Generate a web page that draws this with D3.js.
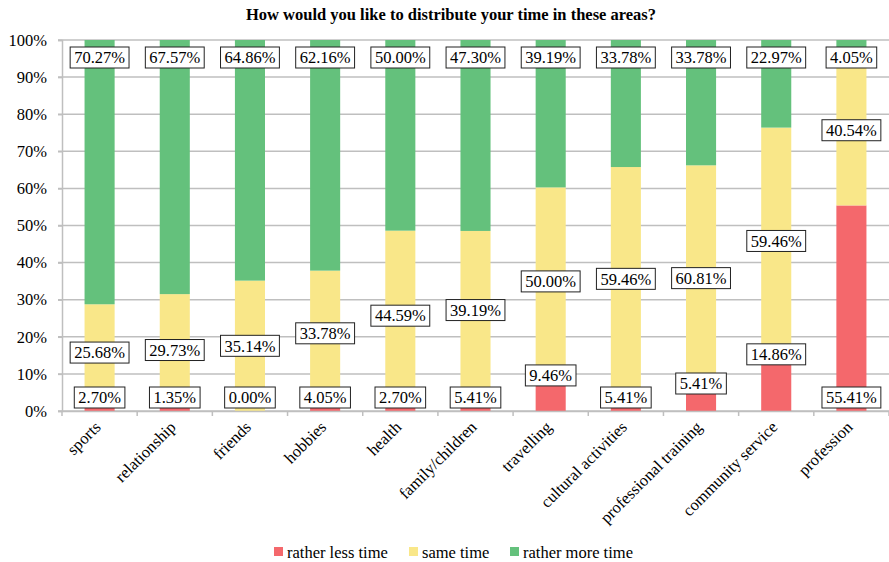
<!DOCTYPE html>
<html>
<head>
<meta charset="utf-8">
<script src="https://cdn.jsdelivr.net/npm/d3@7/dist/d3.min.js"></script>
<style>
  html, body { margin: 0; padding: 0; background: #fff; }
  #chart { font-family: 'Liberation Serif', 'DejaVu Serif', serif; }
  #chart text { font-family: 'Liberation Serif', 'DejaVu Serif', serif; fill: #000; }
</style>
</head>
<body>
<svg id="chart" width="889" height="562"></svg>
<script>
// Survey answers per area (percent of respondents)
const categories = ["sports", "relationship", "friends", "hobbies", "health", "family/children",
  "travelling", "cultural activities", "professional training", "community service", "profession"];
const lessTime = [2.70, 1.35, 0.00, 4.05, 2.70, 5.41, 9.46, 5.41, 5.41, 14.86, 55.41];
const sameTime = [25.68, 29.73, 35.14, 33.78, 44.59, 39.19, 50.00, 59.46, 60.81, 59.46, 40.54];
const moreTime = [70.27, 67.57, 64.86, 62.16, 50.00, 47.30, 39.19, 33.78, 33.78, 22.97, 4.05];
const seriesNames = ["rather less time", "same time", "rather more time"];
const yTicks = [0, 0.1, 0.2, 0.3, 0.4, 0.5, 0.6, 0.7, 0.8, 0.9, 1.0];
// Where the "rather less time" label sits: at the base of the bar or at the segment end
const lessLabelPlacement = ["base", "base", "base", "base", "base", "base", "end", "base", "end", "end", "base"];

const colors = ["#F4686C", "#F9E789", "#64C17C"];
const keys = ["less", "same", "more"];
const serif = "'Liberation Serif', 'DejaVu Serif', serif";

const rows = categories.map((c, i) => ({
  category: c, less: lessTime[i], same: sameTime[i], more: moreTime[i]
}));

const svg = d3.select("#chart");
const margin = { left: 62, right: 0, top: 40, bottom: 151 };
const W = 889, H = 562;

const x = d3.scaleBand()
  .domain(categories)
  .range([margin.left, W - margin.right])
  .paddingInner(0.6)
  .paddingOuter(0.3);

const y = d3.scaleLinear()
  .domain([0, 1])
  .range([H - margin.bottom, margin.top]);

// Title
svg.append("text")
  .attr("x", 451).attr("y", 20)
  .attr("text-anchor", "middle")
  .style("font-size", "16.5px")
  .style("font-weight", "bold")
  .text("How would you like to distribute your time in these areas?");

// Horizontal gridlines
svg.append("g")
  .selectAll("line")
  .data(yTicks)
  .join("line")
  .attr("x1", margin.left - 4).attr("x2", W - margin.right)
  .attr("y1", d => y(d)).attr("y2", d => y(d))
  .attr("stroke", "#bfbfbf").attr("stroke-width", 1.5);

// Y axis
const yAxis = svg.append("g")
  .attr("transform", `translate(${margin.left},0)`)
  .call(d3.axisLeft(y).tickValues(yTicks).tickFormat(d3.format(".0%")).tickSize(4).tickPadding(11));
yAxis.attr("font-family", null);
yAxis.select(".domain").attr("stroke", "#bfbfbf").attr("stroke-width", 1.5);
yAxis.selectAll(".tick line").attr("stroke", "#bfbfbf").attr("stroke-width", 1.5);
yAxis.selectAll("text").style("font-size", "16.5px").attr("fill", "#000");

// Stacked 100% bars
const stack = d3.stack().keys(keys).offset(d3.stackOffsetExpand);
const stacked = stack(rows);

svg.append("g")
  .selectAll("g")
  .data(stacked)
  .join("g")
  .attr("fill", (d, i) => colors[i])
  .selectAll("rect")
  .data(d => d)
  .join("rect")
  .attr("x", d => x(d.data.category))
  .attr("width", x.bandwidth())
  .attr("y", d => y(d[1]))
  .attr("height", d => Math.max(0, y(d[0]) - y(d[1])));

// X axis
const xAxis = svg.append("g")
  .attr("transform", `translate(0,${y(0)})`)
  .call(d3.axisBottom(x).tickSize(0).tickFormat(""));
xAxis.select(".domain").attr("stroke", "#bfbfbf").attr("stroke-width", 1.5);

// Tick marks between categories
const step = x.step();
const boundaries = d3.range(categories.length + 1).map(i => x(categories[0]) - step * x.paddingInner() / 2 + i * step);
svg.append("g")
  .selectAll("line")
  .data(boundaries)
  .join("line")
  .attr("x1", d => d).attr("x2", d => d)
  .attr("y1", y(0)).attr("y2", y(0) + 5)
  .attr("stroke", "#bfbfbf").attr("stroke-width", 1.5);

// Rotated category labels
svg.append("g")
  .selectAll("text")
  .data(categories)
  .join("text")
  .attr("transform", d => `translate(${x(d) + x.bandwidth() / 2 - 2},${y(0) + 13}) rotate(-45)`)
  .attr("text-anchor", "end")
  .attr("dy", "0.35em")
  .style("font-size", "16.5px")
  .text(d => d);

// Data labels with boxed backgrounds
const labelGroup = svg.append("g");
const boxH = 21;
const fmt = v => v.toFixed(2) + "%";

function addLabel(cx, cy, value) {
  const g = labelGroup.append("g").attr("transform", `translate(${cx},${cy})`);
  const rect = g.append("rect").attr("fill", "#fff").attr("stroke", "#222").attr("stroke-width", 1);
  const t = g.append("text")
    .attr("text-anchor", "middle")
    .attr("dy", "0.35em")
    .style("font-size", "16.5px")
    .style("font-family", serif)
    .text(fmt(value));
  const w = t.node().getComputedTextLength() + 8;
  rect.attr("x", -w / 2).attr("y", -boxH / 2).attr("width", w).attr("height", boxH);
}

const [sLess, sSame, sMore] = stacked;
categories.forEach((c, i) => {
  const cx = x(c) + x.bandwidth() / 2;
  // less-time label
  const baseY = y(0) - 3 - boxH / 2;
  let ly = baseY;
  if (lessLabelPlacement[i] === "end") {
    ly = Math.min(baseY - 14, y(sLess[i][1]));
  }
  addLabel(cx, ly, lessTime[i]);
  // same-time label, centred in its segment
  addLabel(cx, y((sSame[i][0] + sSame[i][1]) / 2), sameTime[i]);
  // more-time label, inside the top of the bar
  addLabel(cx, y(1) + 7 + boxH / 2, moreTime[i]);
});

// Legend
const legendItems = [
  { name: seriesNames[0], color: colors[0], x: 274 },
  { name: seriesNames[1], color: colors[1], x: 409 },
  { name: seriesNames[2], color: colors[2], x: 510 }
];
const legend = svg.append("g");
legendItems.forEach(it => {
  legend.append("rect")
    .attr("x", it.x).attr("y", 547).attr("width", 9).attr("height", 9)
    .attr("fill", it.color);
  legend.append("text")
    .attr("x", it.x + 13).attr("y", 552)
    .attr("dy", "0.35em")
    .style("font-size", "16.5px")
    .text(it.name);
});

// Apply the serif face to every text node
svg.selectAll("text").style("font-family", serif);
</script>
</body>
</html>
